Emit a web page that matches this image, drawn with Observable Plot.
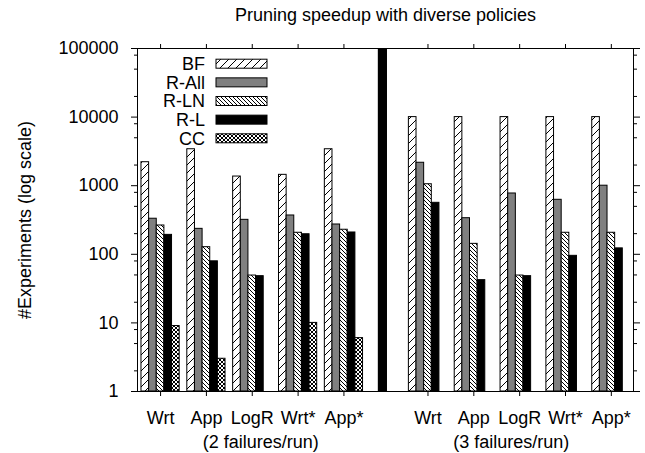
<!DOCTYPE html>
<html><head><meta charset="utf-8">
<script src="https://cdn.jsdelivr.net/npm/d3@7"></script>
<script src="https://cdn.jsdelivr.net/npm/@observablehq/plot@0.6"></script>
<style>
html,body{margin:0;padding:0;background:#fff;}
#chart svg{display:block;}
</style></head><body><div id="chart"></div>
<script>
// ---- data ----
const title = "Pruning speedup with diverse policies";
const yLabel = "#Experiments (log scale)";
const categories = ["Wrt", "App", "LogR", "Wrt*", "App*"];
const groups = ["(2 failures/run)", "(3 failures/run)"];
const seriesNames = ["BF", "R-All", "R-LN", "R-L", "CC"];
// 2 failures/run
const bf2   = [2200, 3400, 1360, 1440, 3400];
const rAll2 = [330, 235, 318, 368, 272];
const rLn2  = [263, 127, 49, 206, 228];
const rL2   = [192, 79, 48, 196, 208];
const cc2   = [9, 3, null, 10, 6];
// 3 failures/run
const bf3   = [10000, 10000, 10000, 10000, 10000];
const rAll3 = [2160, 336, 770, 623, 1000];
const rLn3  = [1050, 142, 49, 206, 206];
const rL3   = [563, 42, 48, 95, 122];
const cc3   = [null, null, null, null, null];
const separatorValue = 100000;
const yTickValues = [1, 10, 100, 1000, 10000, 100000];

// ---- layout ----
const FONT = "'Liberation Sans', Arial, Helvetica, sans-serif";
const SLOTS_PER_CLUSTER = 6;
const GROUP_START = [0, 35];
const SEP_CENTER = 31.6, SEP_WIDTH = 1.2;
const GROUP_LABEL_X = [15.6, 48.4];
const fills = {
  "BF": "url(#pBF)", "R-All": "#808080", "R-LN": "url(#pLN)", "R-L": "#000000", "CC": "url(#pCC)"
};
const seriesData = [[bf2, rAll2, rLn2, rL2, cc2], [bf3, rAll3, rLn3, rL3, cc3]];

const bars = [];
seriesData.forEach((grp, g) => {
  grp.forEach((vals, s) => {
    vals.forEach((v, c) => {
      if (v == null) return;
      const start = GROUP_START[g] + c * SLOTS_PER_CLUSTER + s;
      bars.push({series: seriesNames[s], x1: start, x2: start + 1, value: v});
    });
  });
});
const tickPos = [], tickLab = new Map();
GROUP_START.forEach(g0 => categories.forEach((cat, c) => {
  const p = g0 + c * SLOTS_PER_CLUSTER + 2.5;
  tickPos.push(p); tickLab.set(p, cat);
}));
const minorTicks = [];
for (let d = 1; d < 100000; d *= 10) for (const m of [2, 5, 8]) minorTicks.push(d * m);

const seriesMarks = seriesNames.map(name =>
  Plot.rect(bars.filter(b => b.series === name), {
    x1: "x1", x2: "x2", y1: () => 1, y2: "value",
    fill: fills[name], stroke: "black", strokeWidth: 1
  })
);

const svg = Plot.plot({
  width: 645, height: 453,
  marginLeft: 137, marginRight: 12, marginTop: 48, marginBottom: 62,
  style: {fontFamily: FONT, fontSize: "18px", color: "black", background: "white", overflow: "visible"},
  x: {type: "linear", domain: [-0.52, 64.4], axis: null},
  y: {type: "log", domain: [1, 100000], axis: null},
  marks: [
    ...seriesMarks,
    Plot.rect([separatorValue], {x1: SEP_CENTER - SEP_WIDTH / 2, x2: SEP_CENTER + SEP_WIDTH / 2, y1: () => 1, y2: d => d, fill: "black"}),
    Plot.frame({stroke: "black", strokeWidth: 1}),
    Plot.axisY({anchor: "left", ticks: yTickValues, tickSize: 6, tickPadding: 13, tickFormat: d => String(d), label: null, fontSize: 18}),
    Plot.axisY({anchor: "left", ticks: minorTicks, tickSize: 3, tickFormat: () => "", label: null}),
    Plot.axisY({anchor: "right", ticks: yTickValues, tickSize: 6, tickFormat: () => "", label: null}),
    Plot.axisY({anchor: "right", ticks: minorTicks, tickSize: 3, tickFormat: () => "", label: null}),
    Plot.axisX({anchor: "bottom", ticks: tickPos, tickSize: 5, tickPadding: 14.5, tickFormat: d => tickLab.get(d), label: null, fontSize: 18}),
    Plot.axisX({anchor: "top", ticks: tickPos, tickSize: 5, tickFormat: () => "", label: null}),
    Plot.text(groups, {x: (d, i) => GROUP_LABEL_X[i], frameAnchor: "bottom", lineAnchor: "middle", dy: 50.7, text: d => d, fontSize: 18}),
    Plot.text([title], {frameAnchor: "top", lineAnchor: "middle", textAnchor: "middle", dy: -32.8, text: d => d, fontSize: 18}),
    Plot.text([yLabel], {frameAnchor: "left", lineAnchor: "middle", textAnchor: "middle", dx: -112, rotate: -90, text: d => d, fontSize: 18})
  ]
});

// patterns
const defs = d3.select(svg).insert("defs", ":first-child");
function pattern(id, size, d) {
  const p = defs.append("pattern").attr("id", id).attr("patternUnits", "userSpaceOnUse")
    .attr("width", size).attr("height", size);
  p.append("rect").attr("width", size).attr("height", size).attr("fill", "white");
  p.append("path").attr("d", d).attr("stroke", "black").attr("stroke-width", 1).attr("fill", "none");
}
pattern("pBF", 8, "M-2,2L2,-2M0,8L8,0M6,10L10,6");
pattern("pLN", 4, "M-1,3L1,5M0,0L4,4M3,-1L5,1");
pattern("pCC", 4, "M-1,3L1,5M0,0L4,4M3,-1L5,1M-1,1L1,-1M0,4L4,0M3,5L5,3");

// legend
const legend = d3.select(svg).append("g").attr("font-family", FONT).attr("font-size", 18);
seriesNames.forEach((name, i) => {
  const cy = 63.7 + i * 18.65;
  legend.append("text").attr("x", 205).attr("y", cy).attr("dy", "0.35em")
    .attr("text-anchor", "end").attr("fill", "black").text(name);
  legend.append("rect").attr("x", 216).attr("y", cy - 4.5).attr("width", 51).attr("height", 9)
    .attr("fill", fills[name]).attr("stroke", "black").attr("stroke-width", 1);
});

document.getElementById("chart").appendChild(svg);
</script></body></html>
